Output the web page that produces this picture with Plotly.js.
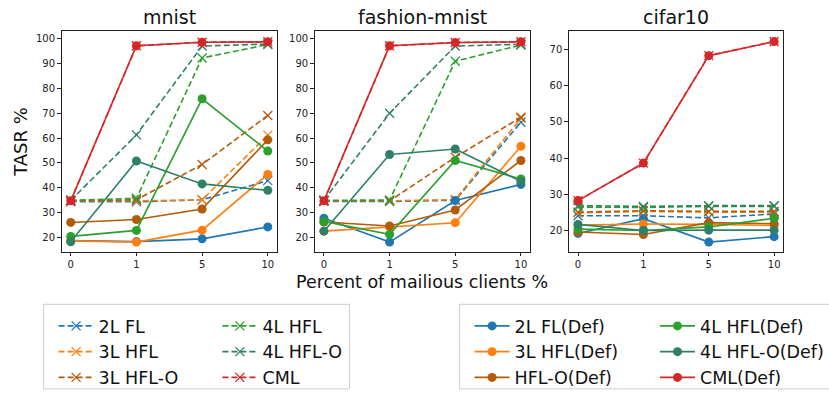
<!DOCTYPE html>
<html>
<head>
<meta charset="utf-8">
<script src="https://cdn.plot.ly/plotly-3.0.1.min.js"></script>
<style>html,body{margin:0;padding:0;background:#fff}#chart{width:829px;height:396px}</style>
</head>
<body>
<div id="chart"></div>
<script>
// ---- data ----
const categories = ['0', '1', '5', '10'];
const panelTitles = ['mnist', 'fashion-mnist', 'cifar10'];

const seriesNames = ['2L FL', '3L HFL', '3L HFL-O', '4L HFL', '4L HFL-O', 'CML',
                     '2L FL(Def)', '3L HFL(Def)', 'HFL-O(Def)', '4L HFL(Def)', '4L HFL-O(Def)', 'CML(Def)'];

// mnist
const mnist_2LFL      = [34.4, 34.4, 35.2, 42.9];
const mnist_3LHFL     = [34.8, 34.8, 35.2, 61.2];
const mnist_3LHFLO    = [34.8, 35.2, 49.4, 69.1];
const mnist_4LHFL     = [35.0, 35.8, 92.2, 97.6];
const mnist_4LHFLO    = [35.0, 61.3, 97.0, 97.8];
const mnist_CML       = [34.8, 97.1, 98.5, 98.7];
const mnist_2LFL_def  = [18.8, 18.4, 19.5, 24.3];
const mnist_3LHFL_def = [18.7, 18.2, 23.0, 45.4];
const mnist_HFLO_def  = [26.1, 27.3, 31.5, 59.3];
const mnist_4LHFL_def = [20.5, 22.9, 75.8, 54.8];
const mnist_4LHFLO_def= [18.3, 50.8, 41.6, 39.0];
const mnist_CML_def   = [34.8, 97.1, 98.5, 98.7];

// fashion-mnist
const fmnist_2LFL      = [34.5, 34.5, 35.0, 66.4];
const fmnist_3LHFL     = [34.8, 34.8, 35.3, 68.0];
const fmnist_3LHFLO    = [34.8, 34.8, 52.3, 68.4];
const fmnist_4LHFL     = [35.0, 35.1, 90.9, 97.4];
const fmnist_4LHFLO    = [35.0, 70.0, 97.0, 97.7];
const fmnist_CML       = [34.8, 97.1, 98.4, 98.7];
const fmnist_2LFL_def  = [27.8, 18.2, 34.9, 41.4];
const fmnist_3LHFL_def = [22.6, 24.3, 26.0, 56.7];
const fmnist_HFLO_def  = [26.3, 24.7, 31.1, 51.0];
const fmnist_4LHFL_def = [26.5, 21.3, 51.0, 43.6];
const fmnist_4LHFLO_def= [22.6, 53.4, 55.6, 42.6];
const fmnist_CML_def   = [34.8, 97.1, 98.4, 98.7];

// cifar10
const cifar_2LFL      = [24.0, 24.0, 23.4, 24.5];
const cifar_3LHFL     = [24.8, 25.2, 25.0, 25.0];
const cifar_3LHFLO    = [25.0, 25.4, 25.2, 25.2];
const cifar_4LHFL     = [26.4, 26.3, 26.6, 26.6];
const cifar_4LHFLO    = [26.8, 26.6, 26.8, 26.8];
const cifar_CML       = [28.2, 38.6, 68.4, 72.3];
const cifar_2LFL_def  = [19.1, 23.2, 16.7, 18.2];
const cifar_3LHFL_def = [21.4, 21.7, 21.6, 21.3];
const cifar_HFLO_def  = [19.5, 18.8, 22.1, 21.8];
const cifar_4LHFL_def = [20.3, 19.9, 20.9, 23.3];
const cifar_4LHFLO_def= [21.6, 19.9, 20.0, 20.0];
const cifar_CML_def   = [28.2, 38.6, 68.4, 72.3];

const panelData = [
  [mnist_2LFL, mnist_3LHFL, mnist_3LHFLO, mnist_4LHFL, mnist_4LHFLO, mnist_CML,
   mnist_2LFL_def, mnist_3LHFL_def, mnist_HFLO_def, mnist_4LHFL_def, mnist_4LHFLO_def, mnist_CML_def],
  [fmnist_2LFL, fmnist_3LHFL, fmnist_3LHFLO, fmnist_4LHFL, fmnist_4LHFLO, fmnist_CML,
   fmnist_2LFL_def, fmnist_3LHFL_def, fmnist_HFLO_def, fmnist_4LHFL_def, fmnist_4LHFLO_def, fmnist_CML_def],
  [cifar_2LFL, cifar_3LHFL, cifar_3LHFLO, cifar_4LHFL, cifar_4LHFLO, cifar_CML,
   cifar_2LFL_def, cifar_3LHFL_def, cifar_HFLO_def, cifar_4LHFL_def, cifar_4LHFLO_def, cifar_CML_def]
];

// ---- styles ----
const colors = ['#1f77b4', '#ff7f0e', '#b25b09', '#2ca02c', '#2e8066', '#d62728'];
const W = 829, H = 396;
const px = v => v / W;
const py = v => 1 - v / H;

const xDomains = [[px(62), px(279)], [px(317), px(534)], [px(573), px(789)]];
const yDomain = [py(259), py(32)];
const yRanges = [[14.3, 103.0], [14.3, 103.0], [14.0, 75.2]];
const legendIds = ['legend', 'legend2', 'legend3', 'legend4'];

const traces = [];
for (let p = 0; p < 3; p++) {
  const xa = p === 0 ? 'x' : 'x' + (p + 1);
  const ya = p === 0 ? 'y' : 'y' + (p + 1);
  for (let s = 0; s < 12; s++) {
    const dashed = s < 6;
    const c = colors[s % 6];
    const li = dashed ? (s % 6 < 3 ? 0 : 1) : (s % 6 < 3 ? 2 : 3);
    traces.push({
      type: 'scatter', mode: 'lines+markers',
      x: categories, y: panelData[p][s], name: seriesNames[s],
      xaxis: xa, yaxis: ya,
      legend: legendIds[li], legendgroup: 'g' + s,
      showlegend: p === 0,
      line: {color: c, width: 1.6, dash: dashed ? '6px,3px' : 'solid'},
      marker: dashed
        ? {symbol: 'x-thin', size: 9, color: c, line: {color: c, width: 1.3}}
        : {symbol: 'circle', size: 9, color: c}
    });
  }
}

const axisCommon = {
  showline: true, mirror: true, linecolor: '#222', linewidth: 1,
  ticks: 'outside', ticklen: 3.5, tickwidth: 1, tickcolor: '#222',
  showgrid: false, zeroline: false,
  tickfont: {size: 10, color: '#222'}
};

const layout = {
  width: W, height: H,
  margin: {l: 0, r: 0, t: 0, b: 0},
  paper_bgcolor: '#fff', plot_bgcolor: '#fff',
  font: {family: 'DejaVu Sans', color: '#111'},
  showlegend: true,
  annotations: [],
  shapes: [
    {type: 'rect', xref: 'paper', yref: 'paper', x0: px(44), x1: px(352), y0: py(400), y1: py(313),
     line: {color: '#cccccc', width: 1}},
    {type: 'rect', xref: 'paper', yref: 'paper', x0: px(463), x1: px(840), y0: py(400), y1: py(313),
     line: {color: '#cccccc', width: 1}}
  ]
};

for (let p = 0; p < 3; p++) {
  const suf = p === 0 ? '' : String(p + 1);
  layout['xaxis' + suf] = Object.assign({}, axisCommon, {
    domain: xDomains[p], anchor: 'y' + suf, type: 'category',
    categoryorder: 'array', categoryarray: categories,
    range: [-0.14, 3.14]
  });
  layout['yaxis' + suf] = Object.assign({}, axisCommon, {
    domain: yDomain, anchor: 'x' + suf,
    range: yRanges[p], dtick: 10, tick0: 0
  });
  layout.annotations.push({
    text: panelTitles[p], xref: 'paper', yref: 'paper',
    x: (xDomains[p][0] + xDomains[p][1]) / 2, y: py(17),
    xanchor: 'center', yanchor: 'middle', showarrow: false,
    font: {size: 19, color: '#111'}
  });
}
layout.yaxis.title = {text: 'TASR %', font: {size: 18, color: '#111'}, standoff: 3};
layout.annotations.push({
  text: 'Percent of mailious clients %', xref: 'paper', yref: 'paper',
  x: px(425), y: py(290), xanchor: 'center', yanchor: 'middle', showarrow: false,
  font: {size: 17.5, color: '#111'}
});

const legendCommon = {
  orientation: 'v', bgcolor: 'rgba(0,0,0,0)', borderwidth: 0,
  font: {size: 17.5, color: '#111'}, tracegroupgap: 0,
  xanchor: 'left', yanchor: 'top', itemwidth: 35
};
const legendX = [54, 219, 473, 660];
legendIds.forEach((id, i) => {
  layout[id] = Object.assign({}, legendCommon, {x: px(legendX[i]), y: py(317)});
});

Plotly.newPlot('chart', traces, layout, {displayModeBar: false, staticPlot: true});
</script>
</body>
</html>
